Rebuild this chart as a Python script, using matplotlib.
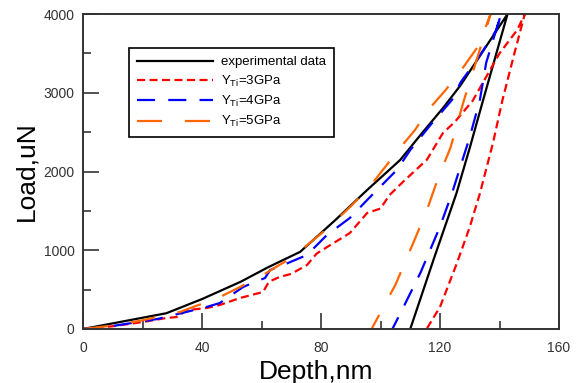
import matplotlib
matplotlib.use("Agg")
import matplotlib.pyplot as plt

plt.rcParams['font.family'] = ['Liberation Sans', 'DejaVu Sans']
plt.rcParams['mathtext.fontset'] = 'custom'
plt.rcParams['mathtext.rm'] = 'Liberation Sans'
plt.rcParams['mathtext.it'] = 'Liberation Sans'
plt.rcParams['lines.scale_dashes'] = False

# experimental data: loading then unloading
exp_load_x = [0, 28, 40, 53, 62, 73, 85, 95.5, 106.6, 114, 121, 127, 135, 142.7]
exp_load_y = [0, 200, 380, 600, 780, 980, 1390, 1765, 2146, 2490, 2806, 3100, 3560, 4000]
exp_unload_x = [142.7, 134.5, 130, 125.5, 118, 110]
exp_unload_y = [4000, 2908, 2300, 1720, 900, 0]

# Y_Ti = 3GPa
y3_load_x = [0, 10, 20, 28, 31.5, 35, 41.6, 46, 52.8, 60.5, 62.5, 66, 70, 75.3, 78.6, 89.7, 95.5,
             100, 103, 107.6, 115.6, 121, 125, 131, 140, 146, 148.5]
y3_load_y = [0, 35, 88, 140, 152, 240, 267, 305, 394, 470, 600, 660, 700, 813, 960, 1219, 1473,
             1530, 1700, 1870, 2150, 2490, 2630, 2900, 3500, 3800, 4000]
y3_unload_x = [148.5, 145, 141, 137.8, 133.4, 130, 125.7, 120, 115.5]
y3_unload_y = [4000, 3500, 2908, 2362, 1720, 1295, 838, 280, 0]

# Y_Ti = 4GPa
y4_load_x = [0, 10, 25, 41.6, 46, 53.8, 58, 61.2, 62.9, 68.9, 75.3, 82, 89.7, 95.5, 105.5, 110,
             117, 124, 127, 133, 139, 140.5]
y4_load_y = [0, 38, 127, 280, 330, 533, 600, 648, 749, 838, 940, 1194, 1410, 1638, 2020, 2273,
             2600, 2908, 3137, 3450, 3800, 4000]
y4_unload_x = [140.5, 135.5, 133.4, 130, 124, 120, 113.5, 108, 104]
y4_unload_y = [4000, 3378, 2908, 2438, 1720, 1300, 720, 300, 0]

# Y_Ti = 5GPa
y5_load_x = [0, 9, 20, 32.6, 46, 52.8, 60.5, 66, 70, 80.7, 88.7, 95.5, 107, 111.6, 116, 122, 127,
             133, 137]
y5_load_y = [0, 40, 110, 216, 406, 533, 686, 813, 900, 1232, 1511, 1765, 2320, 2527, 2780, 3040,
             3280, 3600, 4000]
y5_unload_x = [137, 133, 128, 123.5, 119.5, 115.5, 111, 105, 101, 97]
y5_unload_y = [4000, 3500, 2900, 2300, 1930, 1500, 1092, 560, 280, 0]

labels = ['experimental data', 'Y$_{\\mathrm{Ti}}$=3GPa', 'Y$_{\\mathrm{Ti}}$=4GPa',
          'Y$_{\\mathrm{Ti}}$=5GPa']

fig = plt.figure(figsize=(5.76, 3.83), dpi=100)
ax = fig.add_axes([0.1441, 0.1410, 0.8264, 0.8224])

lw = 1.6
ax.plot(exp_load_x + exp_unload_x[1:], exp_load_y + exp_unload_y[1:], color='black', lw=lw,
        label=labels[0])
ax.plot(y3_load_x + y3_unload_x[1:], y3_load_y + y3_unload_y[1:], color='#ff0000', lw=lw,
        dashes=(5.8, 3.2), label=labels[1])
ax.plot(y4_load_x + y4_unload_x[1:], y4_load_y + y4_unload_y[1:], color='#0000ff', lw=lw,
        dashes=(13, 9.5), label=labels[2])
ax.plot(y5_load_x + y5_unload_x[1:], y5_load_y + y5_unload_y[1:], color='#ff6600', lw=lw,
        dashes=(18, 16.5), label=labels[3])

ax.set_xlim(0, 160)
ax.set_ylim(0, 4000)
ax.set_xticks([0, 40, 80, 120, 160])
ax.set_xticks([20, 60, 100, 140], minor=True)
ax.set_yticks([0, 1000, 2000, 3000, 4000])
ax.set_yticks([500, 1500, 2500, 3500], minor=True)
ax.tick_params(which='major', direction='in', length=11.5, width=1.2, colors='#333333',
               labelsize=10, pad=6)
ax.tick_params(which='minor', direction='in', length=5.5, width=1.2, colors='#333333')
ax.tick_params(axis='x', which='major', pad=9)
for s in ax.spines.values():
    s.set_linewidth(1.4)
    s.set_color('#333333')

ax.set_xlabel('Depth,nm', fontsize=19, labelpad=3)
ax.xaxis.label.set_x(0.4905)
ax.set_ylabel('Load,uN', fontsize=19, labelpad=4)

leg = ax.legend(loc='upper left', bbox_to_anchor=(0.0966, 0.892), borderaxespad=0,
                fontsize=9.5, handlelength=5.8, handletextpad=0.6, labelspacing=0.4,
                borderpad=0.6, fancybox=False, framealpha=1, edgecolor='black')
leg.get_frame().set_linewidth(1.2)

fig.savefig('out.png', dpi=100)
